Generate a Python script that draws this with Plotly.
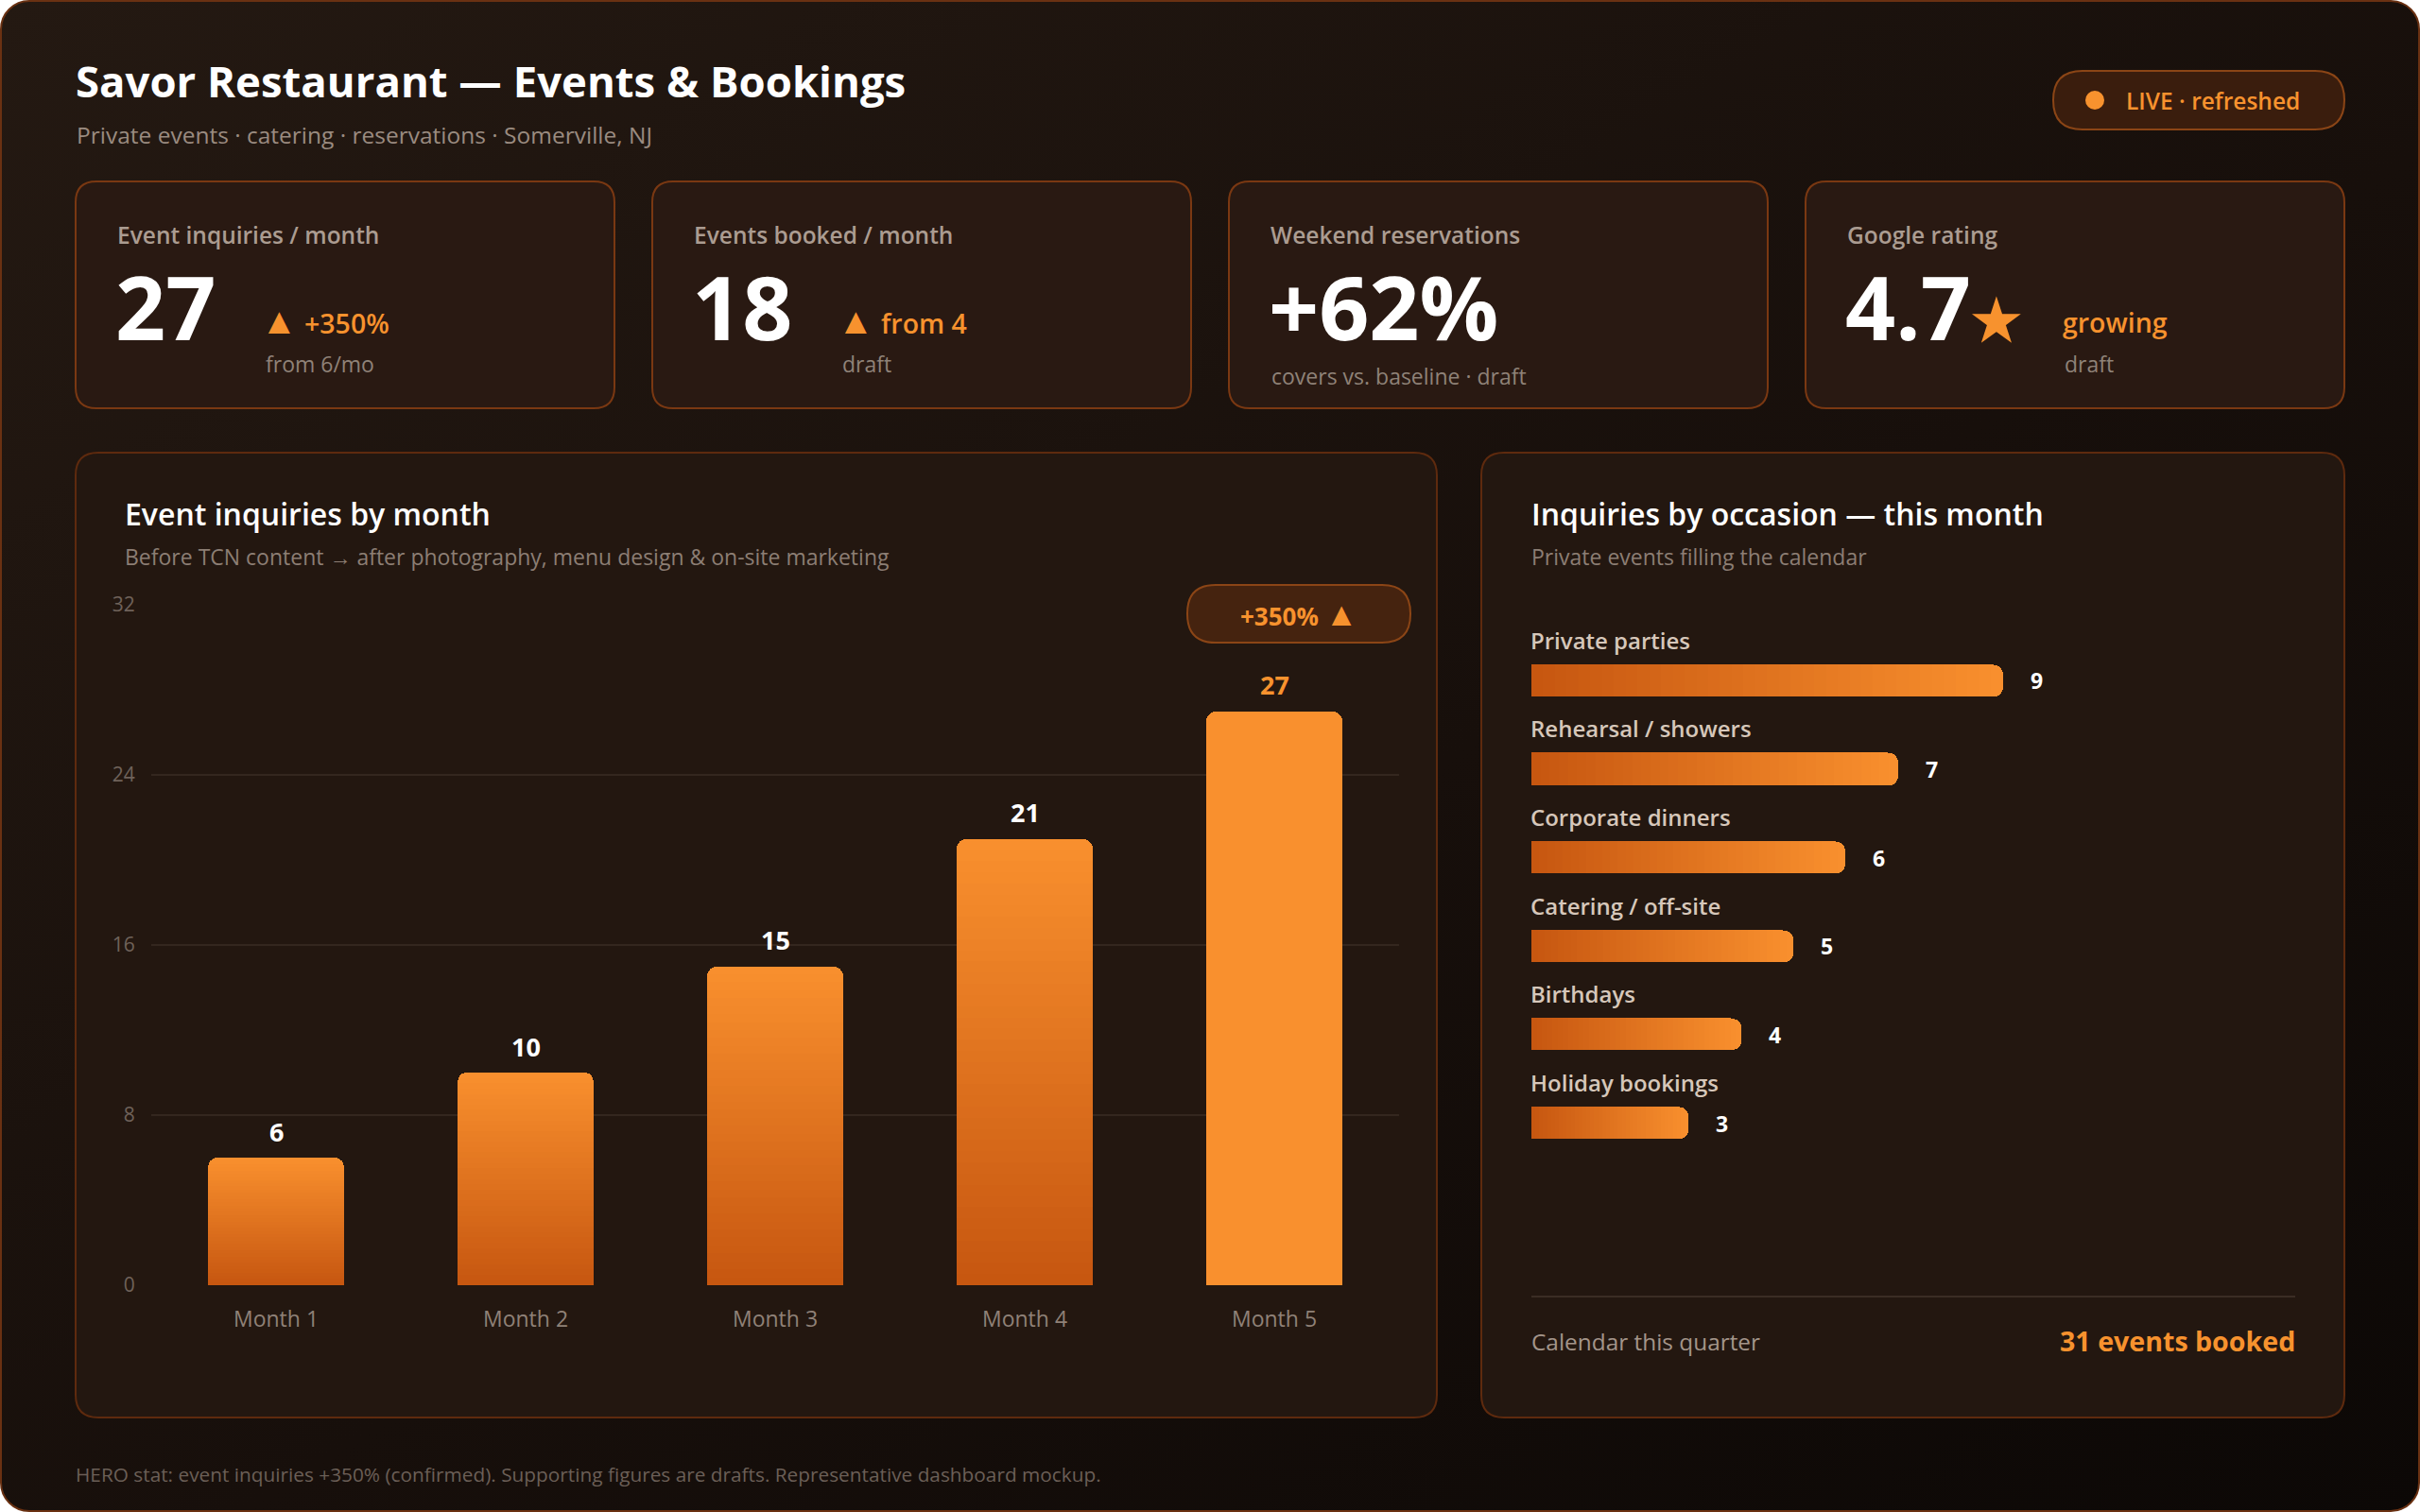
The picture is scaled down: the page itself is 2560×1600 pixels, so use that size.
import base64
import plotly.graph_objects as go

# ---------------- data ----------------
months = ["Month 1", "Month 2", "Month 3", "Month 4", "Month 5"]
inquiries = [6, 10, 15, 21, 27]
y_ticks = [0, 8, 16, 24, 32]

occasions = ["Private parties", "Rehearsal / showers", "Corporate dinners",
             "Catering / off-site", "Birthdays", "Holiday bookings"]
occasion_counts = [9, 7, 6, 5, 4, 3]

kpi_labels = ["Event inquiries / month", "Events booked / month",
              "Weekend reservations", "Google rating"]
kpi_values = ["27", "18", "+62%", "4.7"]
kpi_deltas = ["▲ +350%", "▲ from 4", "", "growing"]
kpi_notes = ["from 6/mo", "draft", "covers vs. baseline · draft", "draft"]

title_text = "Savor Restaurant — Events & Bookings"
subtitle_text = "Private events · catering · reservations · Somerville, NJ"
live_text = "LIVE · refreshed"
left_title = "Event inquiries by month"
left_sub = "Before TCN content → after photography, menu design & on-site marketing"
growth_badge = "+350% ▲"
right_title = "Inquiries by occasion — this month"
right_sub = "Private events filling the calendar"
calendar_label = "Calendar this quarter"
calendar_value = "31 events booked"
footer_text = ("HERO stat: event inquiries +350% (confirmed). Supporting figures are drafts. "
               "Representative dashboard mockup.")

# ---------------- style ----------------
W, H = 2560, 1600
FONT = "Open Sans"
ORANGE = "#f7922e"
WHITE = "#ffffff"
BAR_LIGHT = (249, 144, 46)
BAR_DARK = (198, 86, 16)
N_SEG = 40


def px(x):
    return x / W


def py(y):
    return 1 - y / H


def lerp(c0, c1, t):
    return "rgb(%d,%d,%d)" % tuple(round(a + (b - a) * t) for a, b in zip(c0, c1))


def big_triangles(s, size):
    return s.replace("▲", "<span style='font-size:%dpx'>▲</span>" % size)


def rrect_path(x0, y0, x1, y1, r):
    pts = [
        ("M", [(x0 + r, y0)]), ("L", [(x1 - r, y0)]), ("Q", [(x1, y0), (x1, y0 + r)]),
        ("L", [(x1, y1 - r)]), ("Q", [(x1, y1), (x1 - r, y1)]),
        ("L", [(x0 + r, y1)]), ("Q", [(x0, y1), (x0, y1 - r)]),
        ("L", [(x0, y0 + r)]), ("Q", [(x0, y0), (x0 + r, y0)]),
    ]
    s = ""
    for cmd, ps in pts:
        s += cmd + " ".join("%.6f,%.6f" % (px(a), py(b)) for a, b in ps) + " "
    return s + "Z"


shapes = []
annotations = []


def box(x0, y0, x1, y1, r, fill, line, lw=2):
    shapes.append(dict(type="path", xref="paper", yref="paper", layer="below",
                       path=rrect_path(x0, y0, x1, y1, r), fillcolor=fill,
                       line=dict(color=line, width=lw)))


def txt(x, y, text, size, color, weight=400, xanchor="left", yanchor="middle"):
    annotations.append(dict(xref="paper", yref="paper", x=px(x), y=py(y), text=text,
                            showarrow=False, xanchor=xanchor, yanchor=yanchor,
                            font=dict(family=FONT, size=size, color=color, weight=weight)))


fig = go.Figure()

# ---------------- page background (gradient) ----------------
svg = ("<svg xmlns='http://www.w3.org/2000/svg' width='2560' height='1600'>"
       "<defs><linearGradient id='g' x1='0' y1='0' x2='1' y2='1'>"
       "<stop offset='0' stop-color='#241912'/><stop offset='0.55' stop-color='#170f0b'/>"
       "<stop offset='1' stop-color='#0c0806'/></linearGradient></defs>"
       "<rect x='1' y='1' width='2558' height='1598' rx='30' ry='30' fill='url(#g)' "
       "stroke='#6a3112' stroke-width='2'/></svg>")
bg_src = "data:image/svg+xml;base64," + base64.b64encode(svg.encode()).decode()

# ---------------- header ----------------
txt(78, 85, title_text, 45.5, WHITE, 700)
txt(79, 143, subtitle_text, 24.5, "#9a8b80")
box(2172, 75, 2480, 137, 31, "#3a1d0d", "#8b4516")
shapes.append(dict(type="circle", xref="paper", yref="paper", layer="above",
                   x0=px(2206), x1=px(2226), y0=py(96), y1=py(116),
                   fillcolor=ORANGE, line=dict(width=0)))
txt(2247, 106, live_text, 24.5, ORANGE, 600)

# ---------------- KPI cards ----------------
card_x = [80, 690, 1300, 1910]
for i, cx in enumerate(card_x):
    box(cx, 192, cx + 570, 432, 22, "#291912", "#7a3812")
    txt(cx + 42, 248, kpi_labels[i], 24.5, "#ab9c91", 600)
    val = kpi_values[i]
    if i == 3:
        val = val + "<span style='color:%s;font-size:60px'>★</span>" % ORANGE
    txt(cx + 40, 324, val, 93, WHITE, 700)
    if i == 2:
        txt(cx + 43, 398, kpi_notes[i], 23, "#8f8278")
    elif i == 3:
        txt(cx + 270, 341, kpi_deltas[i], 28.5, ORANGE, 600)
        txt(cx + 272, 385, kpi_notes[i], 23, "#8f8278")
    else:
        txt(cx + 194, 337, big_triangles(kpi_deltas[i], 39), 28.5, ORANGE, 600)
        txt(cx + 199, 385, kpi_notes[i], 23, "#8f8278")

# ---------------- panels ----------------
box(80, 479, 1520, 1500, 24, "#231710", "#5e2a0e")
box(1567, 479, 2480, 1500, 24, "#231710", "#5e2a0e")
txt(130, 543, left_title, 32, WHITE, 600)
txt(130, 589, left_sub, 23, "#8c7e74")
txt(1618, 543, right_title, 32, WHITE, 600)
txt(1618, 589, right_sub, 23, "#8c7e74")

box(1256, 619, 1492, 680, 30, "#45230f", "#8b4516")
txt(1374, 648, big_triangles(growth_badge, 35), 26, ORANGE, 700, xanchor="center")

# divider + calendar footer in right panel
shapes.append(dict(type="line", xref="paper", yref="paper", x0=px(1620), x1=px(2428),
                   y0=py(1372), y1=py(1372), line=dict(color="#3b2d24", width=2)))
txt(1618, 1419, calendar_label, 24.4, "#a3958a")
txt(2430, 1418, calendar_value, 28.6, ORANGE, 700, xanchor="right")

txt(78, 1560, footer_text, 20.8, "#6b5f57")

# ---------------- vertical bars (gradient via stacked slices) ----------------
hi = len(months) - 1
for k in range(N_SEG):
    t = (k + 0.5) / N_SEG
    cols = [lerp(BAR_DARK, BAR_LIGHT, t) if i != hi else "rgb(249,144,46)"
            for i in range(len(months))]
    fig.add_trace(go.Bar(x=months, y=[v / N_SEG for v in inquiries], xaxis="x", yaxis="y",
                         width=0.545, marker=dict(color=cols, line=dict(width=0)),
                         hoverinfo="skip", showlegend=False))

for i, (m, v) in enumerate(zip(months, inquiries)):
    annotations.append(dict(xref="x", yref="y", x=m, y=v, text=str(v), showarrow=False,
                            yanchor="middle", yshift=28,
                            font=dict(family=FONT, size=27, weight=700,
                                      color=ORANGE if i == hi else WHITE)))

# ---------------- horizontal bars ----------------
for k in range(N_SEG):
    t = (k + 0.5) / N_SEG
    fig.add_trace(go.Bar(y=occasions, x=[v / N_SEG for v in occasion_counts], orientation="h",
                         xaxis="x2", yaxis="y2", width=0.364,
                         marker=dict(color=lerp(BAR_DARK, BAR_LIGHT, t), line=dict(width=0)),
                         hoverinfo="skip", showlegend=False))

for o, v in zip(occasions, occasion_counts):
    annotations.append(dict(xref="x2", yref="y2", x=0, y=o, text=o, showarrow=False,
                            xanchor="left", yanchor="middle", yshift=43, xshift=-3,
                            font=dict(family=FONT, size=24, weight=600, color="#d6c7ba")))
    annotations.append(dict(xref="x2", yref="y2", x=v, y=o, text=str(v), showarrow=False,
                            xanchor="left", yanchor="middle", xshift=27,
                            font=dict(family=FONT, size=23, weight=700, color=WHITE)))

fig.update_layout(
    width=W, height=H, autosize=False,
    margin=dict(l=0, r=0, t=0, b=0, pad=0, autoexpand=False),
    paper_bgcolor="#ffffff", plot_bgcolor="rgba(0,0,0,0)",
    barmode="stack", barcornerradius=10, bargap=0,
    showlegend=False, hovermode=False,
    font=dict(family=FONT, color=WHITE),
    images=[dict(source=bg_src, xref="paper", yref="paper", x=0, y=1, sizex=1, sizey=1,
                 xanchor="left", yanchor="top", sizing="stretch", layer="below")],
    shapes=shapes, annotations=annotations,
    xaxis=dict(domain=[px(160), px(1480)], anchor="y", type="category", automargin=False,
               categoryorder="array", categoryarray=months,
               showgrid=False, zeroline=False, showline=False,
               ticks="outside", ticklen=15, tickcolor="rgba(0,0,0,0)",
               tickfont=dict(family=FONT, size=23, color="#8f8177"), fixedrange=True),
    yaxis=dict(domain=[py(1360), py(640)], anchor="x", range=[0, 32], automargin=False,
               tickvals=y_ticks, showgrid=True, gridcolor="rgba(255,235,215,0.08)", gridwidth=2,
               zeroline=False, showline=False,
               ticks="outside", ticklen=12, tickcolor="rgba(0,0,0,0)",
               tickfont=dict(family=FONT, size=21, color="#6f625a"), fixedrange=True),
    xaxis2=dict(domain=[px(1620), px(2428)], anchor="y2", range=[0, 808 / 55.4],
                visible=False, automargin=False, fixedrange=True),
    yaxis2=dict(domain=[py(1250.05), py(673.45)], anchor="x2", type="category",
                categoryorder="array", categoryarray=occasions, autorange="reversed",
                visible=False, automargin=False, fixedrange=True),
)

fig.write_html("out.html", config={"displayModeBar": False})
